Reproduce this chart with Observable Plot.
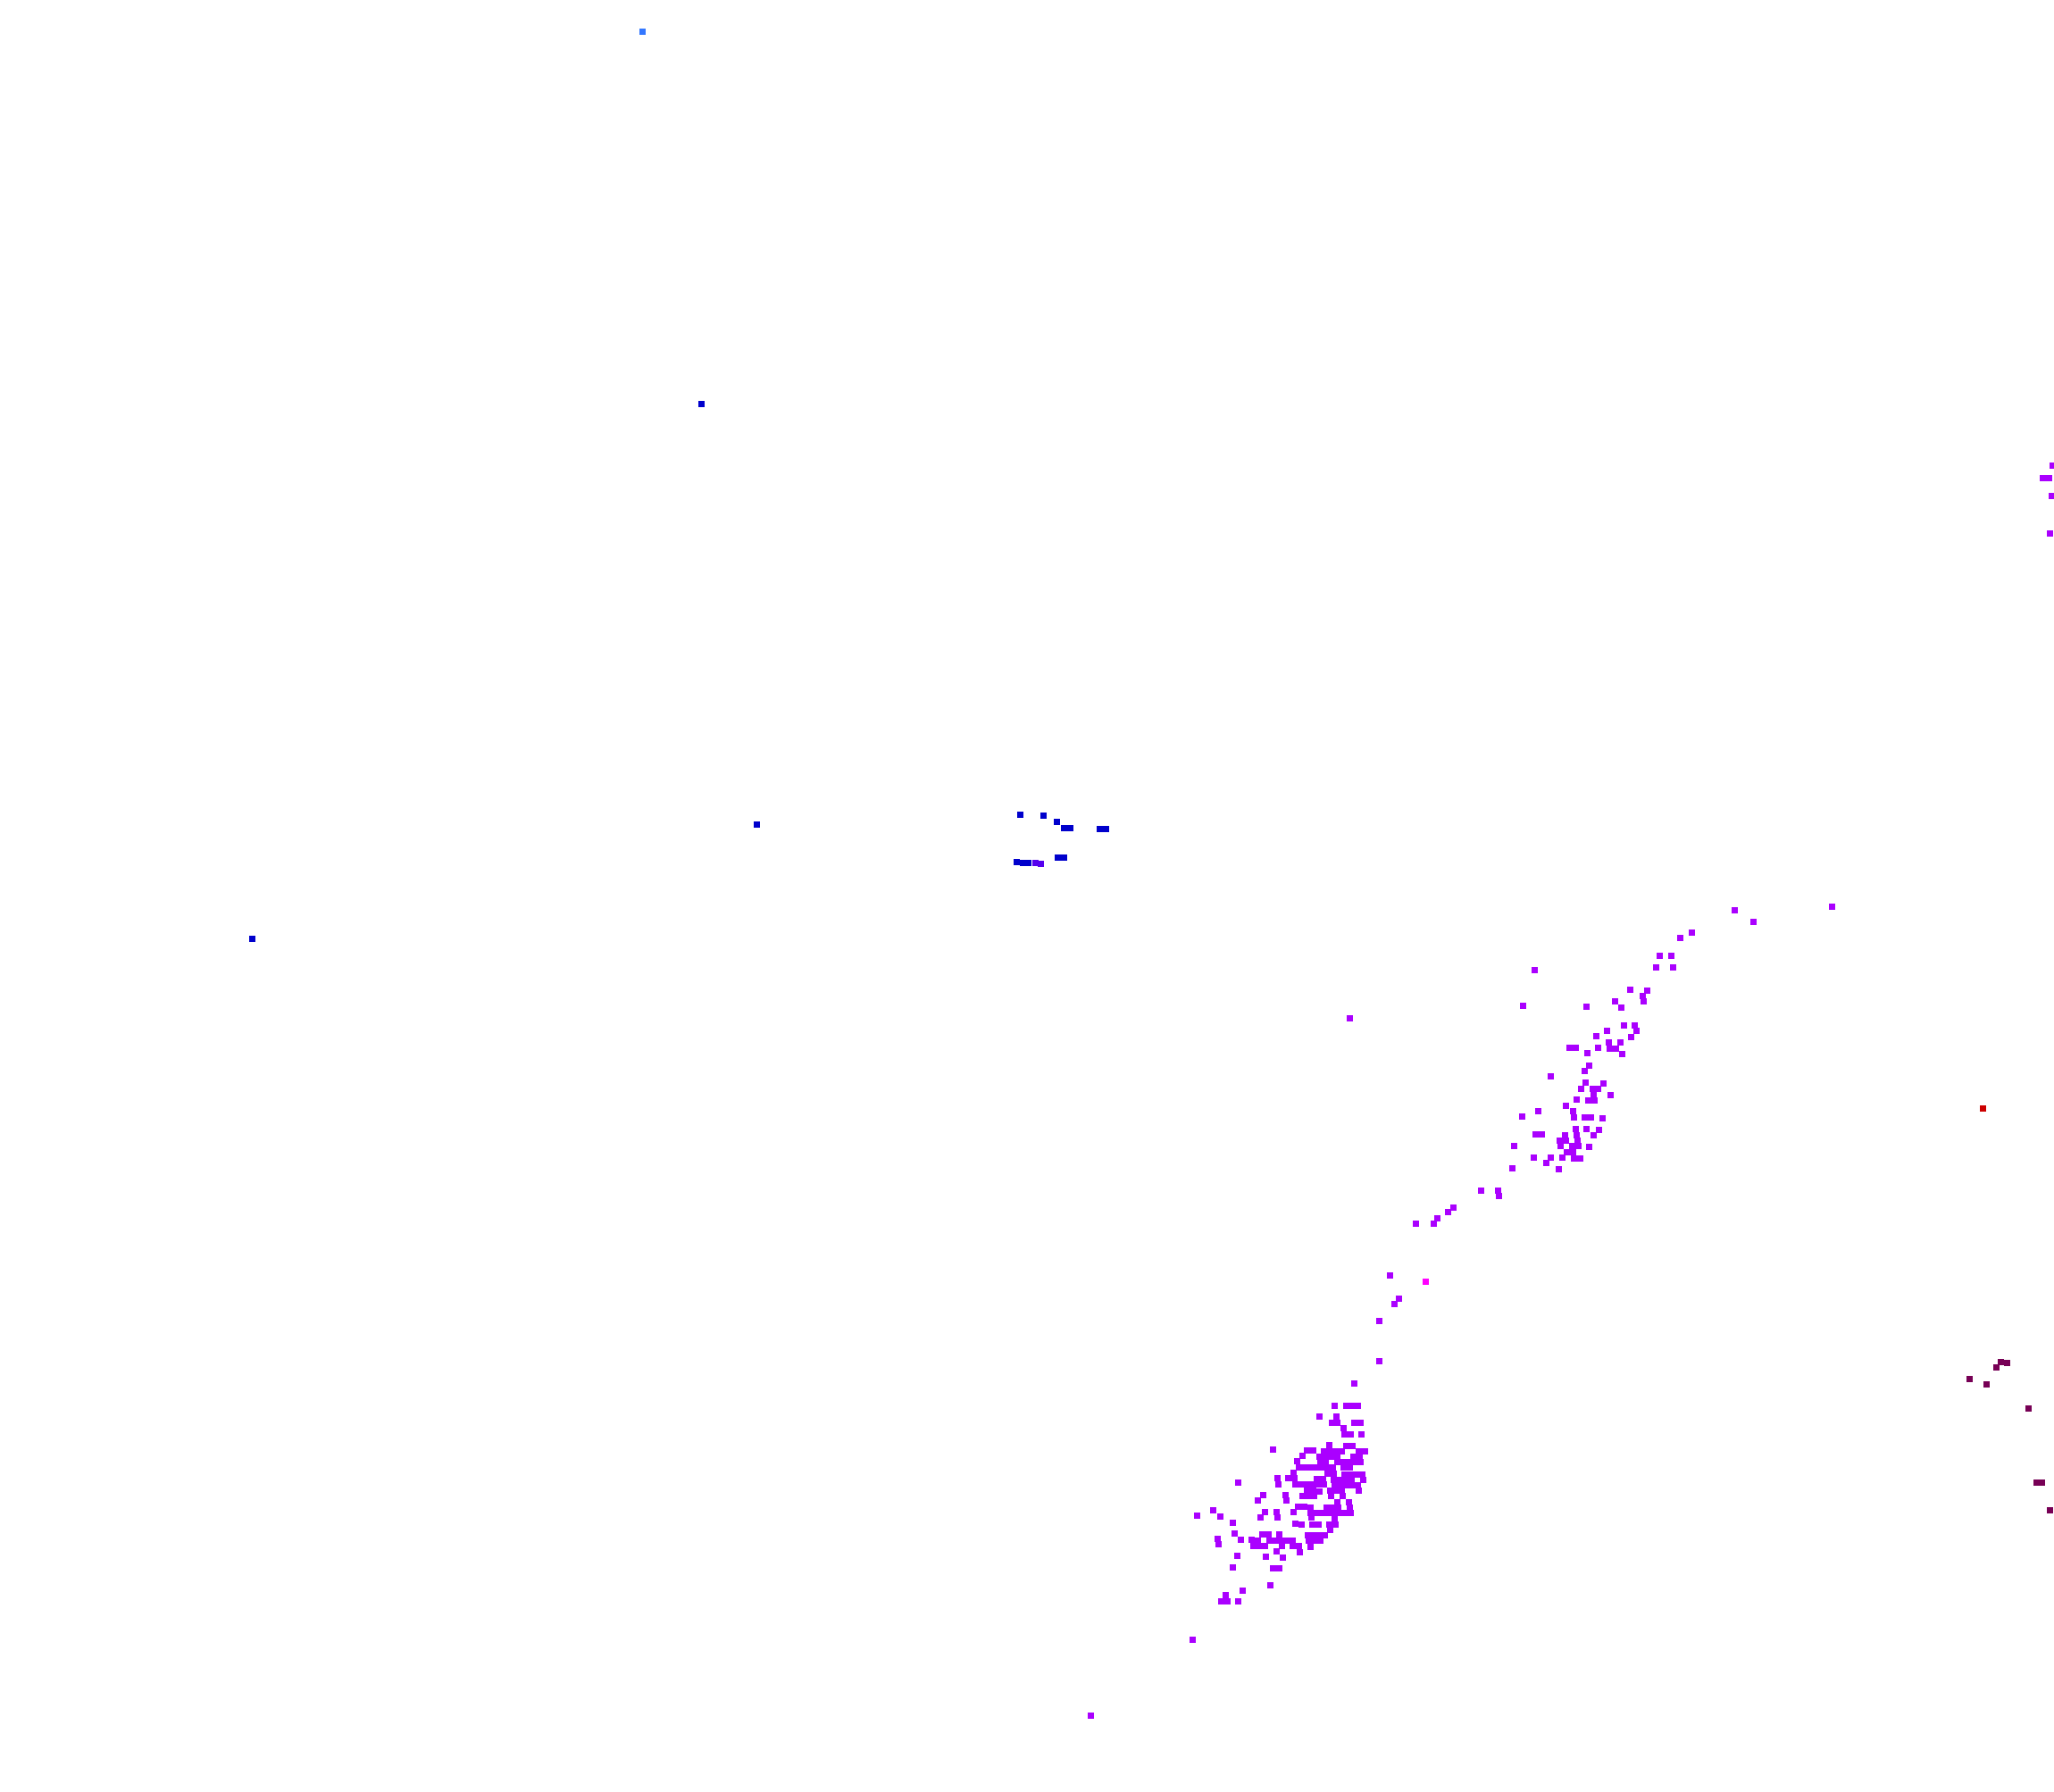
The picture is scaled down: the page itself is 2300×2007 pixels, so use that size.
<!DOCTYPE html>
<html>
<head>
<meta charset="utf-8">
<style>html,body{margin:0;padding:0;background:#fff}svg{display:block}</style>
<script src="https://cdn.jsdelivr.net/npm/d3@7"></script>
<script src="https://cdn.jsdelivr.net/npm/@observablehq/plot@0.6"></script>
</head>
<body>
<div id="chart"></div>
<script>
// Point positions, in 3x units relative to a region origin.
const southOrigin = [1300, 1520];
const southCells = [
[733,12],[649,86],[583,162],[622,162],[641,162],[660,162],[531,198],[588,198],[573,219],[592,219],[649,219],[668,219],[612,238],
[615,258],[635,258],[673,258],[564,295],[622,296],[641,296],[375,309],[490,311],[510,311],[547,314],[566,314],[585,314],[605,314],[663,316],[683,316],
[474,330],[532,332],[551,332],[570,332],[590,332],[646,333],[665,333],[457,349],[535,351],[553,351],[592,352],[611,352],[630,352],[649,352],[668,352],
[462,370],[481,370],[500,370],[519,370],[538,370],[557,370],[576,370],[613,370],[632,370],[444,387],[559,389],[578,389],[616,392],[635,392],[654,392],[674,392],
[427,405],[446,405],[389,406],[523,408],[542,408],[580,410],[599,410],[618,410],[638,410],[677,411],[393,425],[258,421],
[451,427],[470,427],[489,427],[508,427],[527,427],[546,427],[583,428],[602,428],[621,428],[640,428],[659,428],
[490,445],[510,447],[530,449],[568,447],[587,447],[606,447],[663,447],[341,461],[417,462],[475,465],[494,465],[513,465],[570,466],[608,466],
[324,480],[420,480],[592,485],[630,487],[460,501],[480,501],[500,503],[556,504],[575,504],[595,504],[633,505],
[175,514],[348,519],[387,519],[445,520],[502,521],[521,521],[540,521],[559,523],[578,523],[597,523],[616,523],[635,523],
[198,533],[332,537],[390,537],[504,537],[120,531],[239,554],[582,543],[451,557],[470,561],[508,560],[527,561],[565,561],[584,561],
[568,580],[245,591],[340,594],[359,594],[397,594],[493,597],[512,597],[531,597],[550,597],
[189,609],[266,611],[304,613],[323,615],[364,614],[383,614],[402,614],[421,614],[440,614],[496,616],[515,616],[535,616],
[192,628],[310,632],[329,632],[347,632],[404,632],[442,634],[461,634],[500,635],[387,652],[464,653],[256,667],[352,670],[409,672],
[241,704],[376,707],[395,707],[366,764],[273,782],[217,799],[202,818],[221,818],[259,818]
];
const midOrigin = [1640, 1130];
const midCells = [
[533,54],[571,54],[576,72],[477,72],[441,91],[558,92],[483,112],[522,112],[447,130],[352,129],[371,129],[487,132],[506,132],[411,148],[528,151],
[417,188],[401,208],[288,225],[405,247],[465,249],[430,267],[447,267],[390,267],[431,286],[489,288],[375,304],[415,306],[434,306],[340,324],
[362,343],[365,362],[247,342],[192,360],[403,364],[422,364],[462,366],[371,403],[374,422],[377,441],[409,403],[449,404],[431,423],
[238,420],[257,420],[335,422],[319,441],[338,441],[321,460],[361,460],[380,460],[417,462],[343,480],[362,480],[231,497],[288,497],[327,499],
[367,501],[386,501],[273,517],[314,538],[158,534],[166,458],[53,609],[111,610],[114,627]
];
const upperOrigin = [1640, 980];
const upperCells = [
[905,117],[969,157],[1233,104],[761,193],[724,211],[654,270],[693,270],[641,309],[699,310],[234,318],
[555,385],[612,387],[596,405],[600,424],[503,424],[524,443],[194,437],[408,441]
];
const neckOrigin = [1500, 1380];
const neckCells = [[168,143],[198,221],[182,240],[133,296]];
const loosePurple = [[1335.3,1835.7],[1220.7,1921],[1511.3,1140.3],[1585,1370],[1605,1370],[1609,1364],[1621,1357],[1627,1352]];
const edgeOrigin = [2260, 500];
const edgeCells = [[113,64],[82,105],[101,105],[110,166],[106,290]];

const maroonOrigin = [2160, 1500];
const maroonCells = [[241,75],[260,77],[225,94],[134,131],[192,150],[333,230],[360,479],[378,479],[405,573]];

const blueOrigin = [1100, 880];
const blueCells = [[125,97],[205,99],[249,121],[274,141],[293,141],[394,145],[413,145],[252,241],[272,241],[115,255],[134,257],[153,257]];
const blueLoose = [[785,452.3],[847,923.3],[282,1051.3]];
const indigoCells = [[176,259],[195,260]];
const skyPoints = [[718.7,35.3]];
const magentaPoints = [[1595.7,1435]];
const redPoints = [[2220.3,1241]];

const colors = {purple:"#aa00ff", blue:"#0000cc", indigo:"#5500ee", sky:"#3377ff", magenta:"#ff00ff", red:"#cc0000", maroon:"#770055"};

const fromCrop = (cells, [ox, oy], group) => cells.map(([x, y]) => ({x: ox + x / 3, y: oy + y / 3, group}));
const plain = (cells, group) => cells.map(([x, y]) => ({x, y, group}));

const points = [
  ...fromCrop(southCells, southOrigin, "purple"),
  ...fromCrop(midCells, midOrigin, "purple"),
  ...fromCrop(upperCells, upperOrigin, "purple"),
  ...fromCrop(neckCells, neckOrigin, "purple"),
  ...fromCrop(edgeCells, edgeOrigin, "purple"),
  ...plain(loosePurple, "purple"),
  ...fromCrop(maroonCells, maroonOrigin, "maroon"),
  ...fromCrop(blueCells, blueOrigin, "blue"),
  ...plain(blueLoose, "blue"),
  ...fromCrop(indigoCells, blueOrigin, "indigo"),
  ...plain(skyPoints, "sky"),
  ...plain(magentaPoints, "magenta"),
  ...plain(redPoints, "red")
];

const chart = Plot.plot({
  width: 2300,
  height: 2007,
  margin: 0,
  style: {background: "#ffffff"},
  x: {domain: [0, 2300], axis: null},
  y: {domain: [2007, 0], axis: null},
  color: {type: "ordinal", domain: Object.keys(colors), range: Object.values(colors)},
  marks: [
    Plot.dot(points, {x: "x", y: "y", fill: "group", symbol: "square", r: 3.95, shapeRendering: "crispEdges"})
  ]
});
document.getElementById("chart").append(chart);
</script>
</body>
</html>
